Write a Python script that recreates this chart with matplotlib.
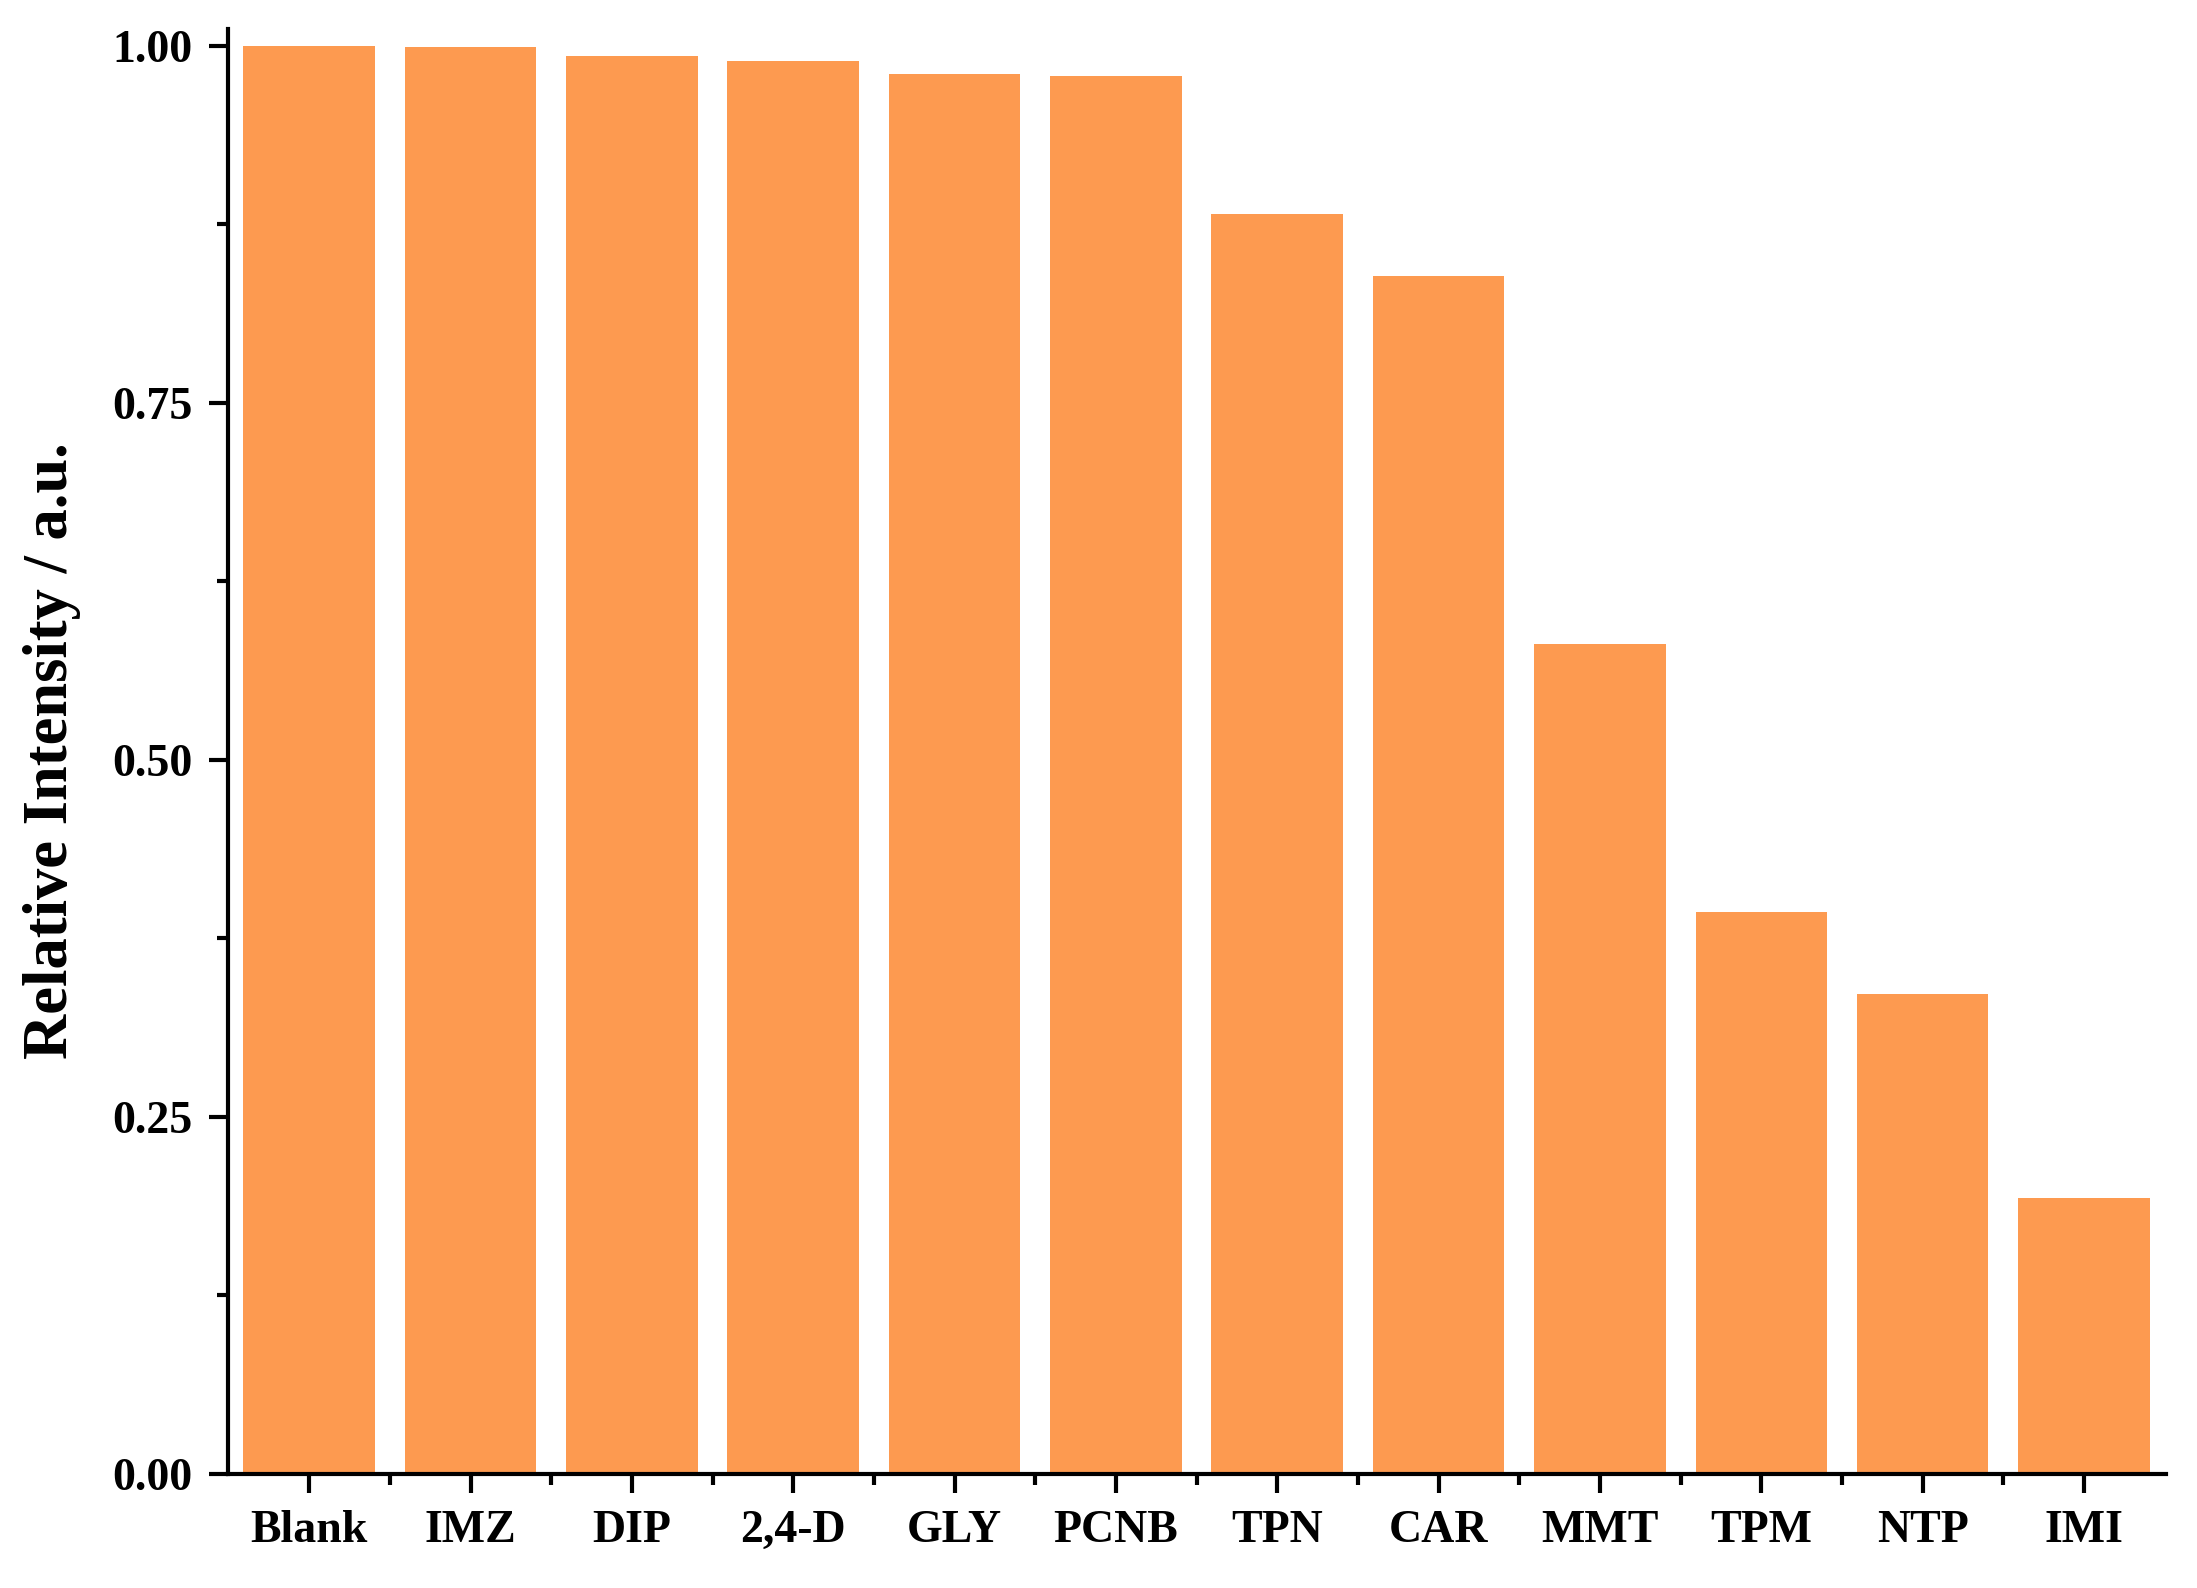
import numpy as np
import matplotlib.pyplot as plt
from matplotlib.ticker import MultipleLocator, FixedLocator

# Data
labels = ["Blank", "IMZ", "DIP", "2,4-D", "GLY", "PCNB", "TPN", "CAR", "MMT", "TPM", "NTP", "IMI"]
values = [1.000, 0.999, 0.993, 0.989, 0.980, 0.979, 0.882, 0.839, 0.581, 0.393, 0.336, 0.193]

plt.rcParams['font.family'] = ['Liberation Serif', 'DejaVu Serif']
plt.rcParams['font.weight'] = 'bold'

fig = plt.figure(figsize=(21.97, 15.88), dpi=100)
ax = fig.add_axes([0.104, 0.072, 0.882, 0.91])

x = np.arange(len(labels))
ax.bar(x, values, width=0.815, color='#FD9A50', zorder=2)

ax.set_xlim(-0.5, len(labels) - 0.49)
ax.set_ylim(0, 1.012)
ax.yaxis.set_major_locator(MultipleLocator(0.25))
ax.yaxis.set_minor_locator(MultipleLocator(0.125))
ax.yaxis.set_major_formatter(plt.FormatStrFormatter('%.2f'))
ax.set_xticks(x)
ax.set_xticklabels(labels)
ax.xaxis.set_minor_locator(FixedLocator(x[:-1] + 0.5))

for s in ['top', 'right']:
    ax.spines[s].set_visible(False)
for s in ['left', 'bottom']:
    ax.spines[s].set_linewidth(3)

ax.tick_params(axis='both', which='major', length=14, width=3, labelsize=33, pad=12)
ax.tick_params(axis='both', which='minor', length=8, width=3)
for lab in ax.get_xticklabels() + ax.get_yticklabels():
    lab.set_fontweight('bold')

ax.set_ylabel("Relative Intensity / a.u.", fontsize=45, fontweight='bold', labelpad=22)

fig.savefig("out.png", dpi=100)
